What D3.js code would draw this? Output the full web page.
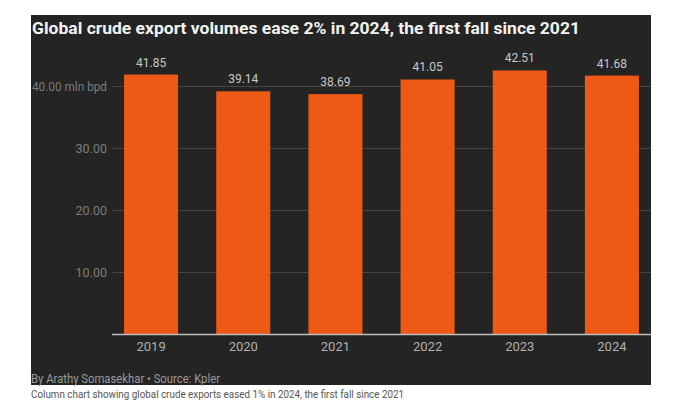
<!DOCTYPE html>
<html><head><meta charset="utf-8">
<script src="https://cdn.jsdelivr.net/npm/d3@7"></script>
<style>
html,body{margin:0;padding:0;background:#fff;}
svg{display:block;}
text{font-family:Roboto,"Open Sans",sans-serif;}
</style></head>
<body>
<svg id="chart" width="680" height="410"></svg>
<script>
const years = ["2019","2020","2021","2022","2023","2024"];
const volumes = [41.85, 39.14, 38.69, 41.05, 42.51, 41.68];
const yTicks = [10, 20, 30, 40];
const title = "Global crude export volumes ease 2% in 2024, the first fall since 2021";
const footer = "By Arathy Somasekhar \u2022 Source: Kpler";
const caption = "Column chart showing global crude exports eased 1% in 2024, the first fall since 2021";

const svg = d3.select("#chart");
const panel = {x:31, y:15, w:620, h:370};

svg.append("rect").attr("x",panel.x).attr("y",panel.y).attr("width",panel.w).attr("height",panel.h).attr("fill","#242424");

svg.append("text").attr("x",32).attr("y",34).attr("fill","#f2f2f2")
  .attr("font-size",17).attr("font-weight",700)
  .attr("textLength",548).attr("lengthAdjust","spacingAndGlyphs").text(title);

const x = d3.scaleBand().domain(years).range([105, 658]).paddingInner(0.414).paddingOuter(0.207);
const y = d3.scaleLinear().domain([0, 40]).range([334, 86]);

// gridlines + y labels
const yAxis = d3.axisLeft(y).tickValues(yTicks).tickSize(-(651-113)).tickPadding(6)
  .tickFormat(d => d === 40 ? "40.00 mln bpd" : d3.format(".2f")(d));
const gy = svg.append("g").attr("transform","translate(113,0)").call(yAxis);
gy.select(".domain").remove();
gy.selectAll(".tick line").attr("stroke","#464646").attr("stroke-width",1);
gy.selectAll(".tick text").attr("fill","#7c7c7c").attr("font-size",12.5).attr("x",-6);
gy.selectAll(".tick text").filter(d => d === 40)
  .attr("textLength",75).attr("lengthAdjust","spacingAndGlyphs");

// bars
svg.append("g").selectAll("rect").data(years).join("rect")
  .attr("x", d => x(d)).attr("width", x.bandwidth())
  .attr("y", (d,i) => y(volumes[i])).attr("height", (d,i) => y(0) - y(volumes[i]))
  .attr("fill","#ee5a16");

// value labels
svg.append("g").selectAll("text").data(years).join("text")
  .attr("x", d => x(d) + x.bandwidth()/2).attr("y", (d,i) => y(volumes[i]) - 8)
  .attr("text-anchor","middle").attr("fill","#c8c8c8").attr("font-size",12)
  .text((d,i) => d3.format(".2f")(volumes[i]));

// x axis
const xAxis = d3.axisBottom(x).tickSize(0).tickPadding(8);
const gx = svg.append("g").attr("transform","translate(0,334)").call(xAxis);
gx.select(".domain").attr("d","M112,0.5H651").attr("stroke","#bdbdbd").attr("stroke-width",1.5);
gx.selectAll(".tick text").attr("fill","#b0b0b0").attr("font-size",13);

svg.append("text").attr("x",31).attr("y",383).attr("fill","#9a9a9a").attr("font-size",12)
  .attr("textLength",189).attr("lengthAdjust","spacingAndGlyphs").text(footer);
svg.append("text").attr("x",31).attr("y",398).attr("fill","#555").attr("font-size",10.5)
  .attr("textLength",373).attr("lengthAdjust","spacingAndGlyphs").text(caption);
</script>
</body></html>
